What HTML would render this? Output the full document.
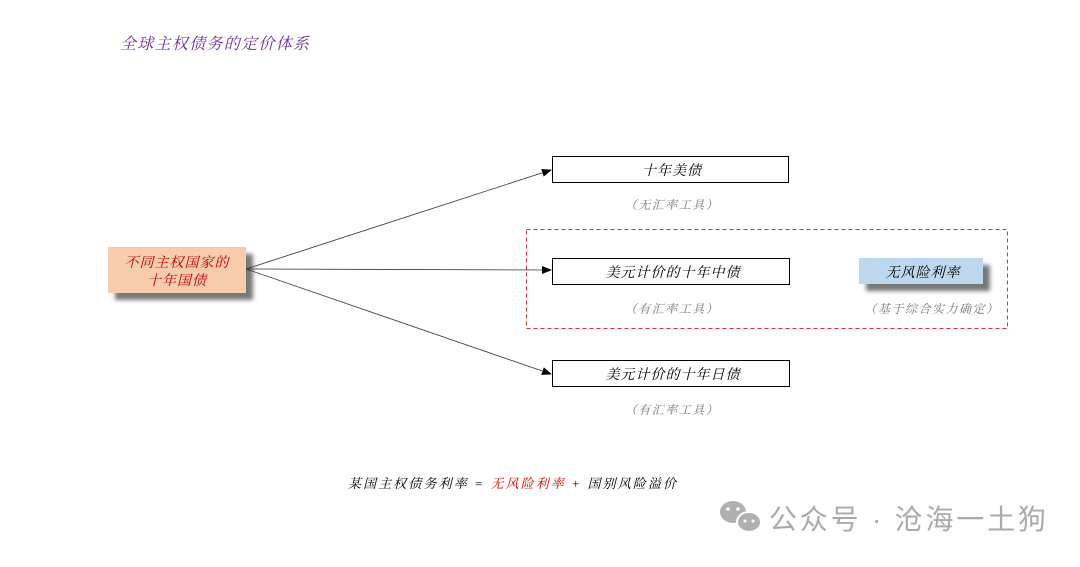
<!DOCTYPE html>
<html><head><meta charset="utf-8"><style>
body{margin:0;background:#fff;}
svg text{font-family:"Liberation Serif","Noto Serif CJK SC",serif;}
.i{font-style:italic;}
</style></head><body>
<svg width="1080" height="562" viewBox="0 0 1080 562" xmlns="http://www.w3.org/2000/svg">
<defs>
<marker id="a" markerWidth="10" markerHeight="8" refX="9" refY="4" orient="auto" markerUnits="userSpaceOnUse"><path d="M0,0 L10,4 L0,8 z" fill="#000"/></marker>
<filter id="b" x="-20%" y="-30%" width="150%" height="180%"><feGaussianBlur stdDeviation="2"/></filter>
</defs>
<text x="120" y="49" font-size="16" fill="#7030a0" class="i" letter-spacing="1.3">全球主权债务的定价体系</text>

<rect x="115" y="254" width="138" height="46" fill="#777" filter="url(#b)"/>
<rect x="108" y="247" width="138" height="46" fill="#f8cbad"/>
<text x="177" y="267" font-size="14" fill="#c00000" text-anchor="middle" class="i" letter-spacing="1">不同主权国家的</text>
<text x="177" y="285" font-size="14" fill="#c00000" text-anchor="middle" class="i" letter-spacing="1">十年国债</text>

<g stroke="#333" stroke-width="0.8" marker-end="url(#a)">
<line x1="246" y1="269" x2="551" y2="170"/>
<line x1="246" y1="269" x2="551" y2="270"/>
<line x1="246" y1="269" x2="551" y2="374"/>
</g>

<rect x="526.5" y="229.5" width="481" height="99" fill="none" stroke="#e03030" stroke-dasharray="4,3"/>

<rect x="552.5" y="156.5" width="236" height="26" fill="#fff" stroke="#000"/>
<text x="672" y="175" font-size="14" text-anchor="middle" class="i" letter-spacing="1">十年美债</text>
<text x="672" y="209" font-size="12" fill="#777" text-anchor="middle" class="i" letter-spacing="1.5">（无汇率工具）</text>

<rect x="552.5" y="258.5" width="237" height="26" fill="#fff" stroke="#000"/>
<text x="673" y="277" font-size="14" text-anchor="middle" class="i" letter-spacing="1">美元计价的十年中债</text>
<text x="672" y="313" font-size="12" fill="#777" text-anchor="middle" class="i" letter-spacing="1.5">（有汇率工具）</text>

<rect x="866" y="265" width="124" height="26" fill="#777" filter="url(#b)"/>
<rect x="859" y="258" width="124" height="26" fill="#bdd7ee"/>
<text x="923" y="277" font-size="14" text-anchor="middle" class="i" letter-spacing="1">无风险利率</text>
<text x="932" y="313" font-size="12" fill="#777" text-anchor="middle" class="i" letter-spacing="1.5">（基于综合实力确定）</text>

<rect x="552.5" y="360.5" width="237" height="26" fill="#fff" stroke="#000"/>
<text x="673" y="379" font-size="14" text-anchor="middle" class="i" letter-spacing="1">美元计价的十年日债</text>
<text x="672" y="414" font-size="12" fill="#777" text-anchor="middle" class="i" letter-spacing="1.5">（有汇率工具）</text>

<text x="348" y="488" font-size="13" class="i" letter-spacing="2.1" xml:space="preserve">某国主权债务利率 = <tspan fill="#e00000">无风险利率</tspan> + 国别风险溢价</text>

<g fill="#b0b0b0">
<ellipse cx="733" cy="512" rx="13" ry="11"/>
<ellipse cx="749" cy="522" rx="12" ry="10" stroke="#fff" stroke-width="2"/>
<circle cx="728" cy="509" r="1.8" fill="#fff"/><circle cx="738" cy="509" r="1.8" fill="#fff"/>
<circle cx="745" cy="521" r="1.5" fill="#fff"/><circle cx="753" cy="521" r="1.5" fill="#fff"/>
</g>
<text x="769" y="529" font-size="28" fill="#aaa" letter-spacing="2.8" style="font-family:'Liberation Sans','Noto Sans CJK SC',sans-serif">公众号 · 沧海一土狗</text>
</svg>
</body></html>
